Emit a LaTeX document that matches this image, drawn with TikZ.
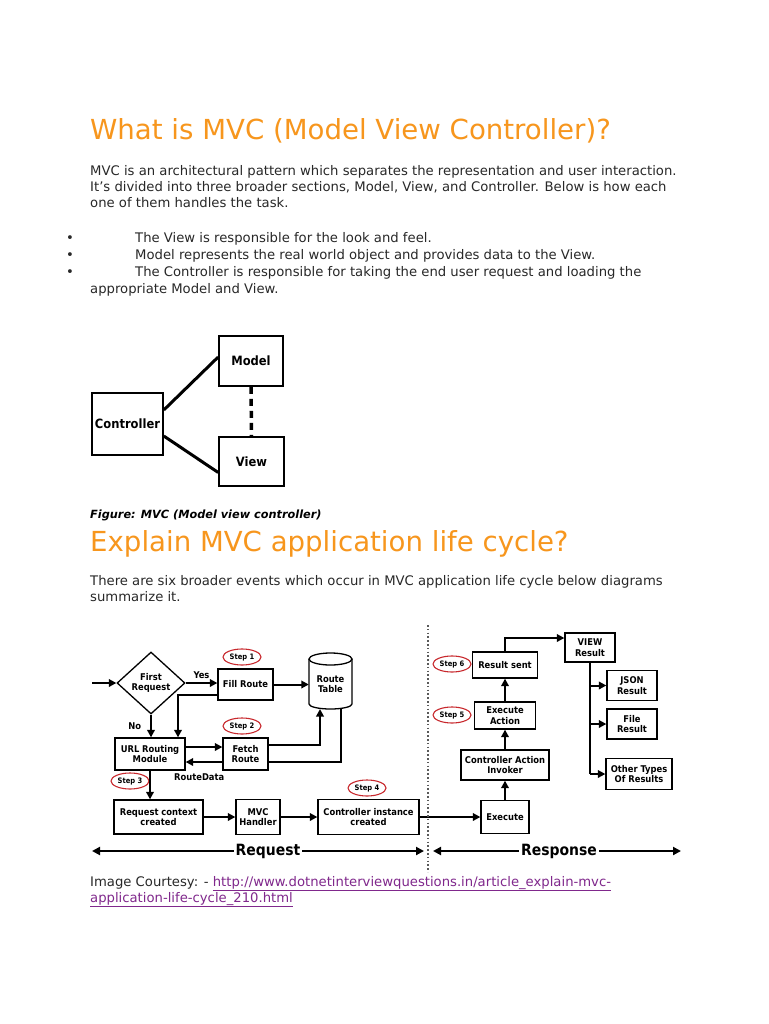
\documentclass[tikz,border=0pt]{standalone}
\usepackage{fontspec}
\setmainfont{DejaVu Sans}
\newfontfamily\cond{DejaVu Sans Condensed}
\usetikzlibrary{shapes.geometric,arrows.meta,calc}
\definecolor{orng}{RGB}{247,150,29}
\definecolor{bodyc}{RGB}{40,40,40}
\definecolor{linkc}{RGB}{128,40,140}
\definecolor{stepred}{RGB}{200,40,45}
\begin{document}
\begin{tikzpicture}[x=1pt,y=-1pt,
  titl/.style={anchor=base west, text=orng, font=\fontsize{27.6}{33}\selectfont, inner sep=0pt},
  body/.style={anchor=base west, text=bodyc, font=\fontsize{13.2}{16}\selectfont, inner sep=0pt},
  mbox/.style={draw, line width=1.6pt, inner sep=1pt, font=\cond\bfseries\fontsize{12.8}{15}\selectfont},
  lbox/.style={draw, line width=1.3pt, fill=white, align=center, inner sep=1pt, font=\cond\bfseries\fontsize{9.3}{10.5}\selectfont},
  lbl/.style={inner sep=1pt, font=\cond\bfseries\fontsize{9.3}{10.5}\selectfont},
  stepe/.style={draw=stepred, ellipse, line width=1.1pt, minimum width=38pt, minimum height=16pt, inner sep=0pt, font=\cond\bfseries\fontsize{7.5}{8}\selectfont},
  arr/.style={line width=2pt, -{Triangle[length=7.5pt,width=7.5pt]}},
  darr/.style={line width=2pt, {Triangle[length=8pt,width=8pt]}-{Triangle[length=8pt,width=8pt]}},
  ln/.style={line width=2pt},
  thick3/.style={line width=3pt}
]
\useasboundingbox (0,0) rectangle (768,1024);
\fill[white] (0,0) rectangle (768,1024);

% ---------- texts ----------
\node[titl] (t1) at (90,140) {What is MVC (Model View Controller)?};
\node[body] (p1) at (90,176) {MVC is an architectural pattern which separates the representation and user interaction.};
\node[body] (p2) at (90,192) {It’s divided into three broader sections, Model, View, and Controller. Below is how each};
\node[body] (p3) at (90,208) {one of them handles the task.};
\node[body] (b1d) at (66,242) {•};
\node[body] (b1) at (135,242) {The View is responsible for the look and feel.};
\node[body] (b2d) at (66,259) {•};
\node[body] (b2) at (135,259) {Model represents the real world object and provides data to the View.};
\node[body] (b3d) at (66,276) {•};
\node[body] (b3) at (135,276) {The Controller is responsible for taking the end user request and loading the};
\node[body] (b4) at (90,293) {appropriate Model and View.};

% ---------- MVC figure ----------
\node[mbox, minimum width=71pt, minimum height=62pt] (ctrl) at (127.5,424) {Controller};
\node[mbox, minimum width=64pt, minimum height=50pt] (model) at (251,361) {Model};
\node[mbox, minimum width=65pt, minimum height=49pt] (view) at (251.5,461.5) {View};
\draw[thick3] ([yshift=14pt]ctrl.east) -- ([yshift=4pt]model.west);
\draw[thick3] ([yshift=-12pt]ctrl.east) -- ([yshift=-11pt]view.west);
\draw[line width=3.5pt, dash pattern=on 7pt off 5pt] (model.south) -- (view.north);

\node[anchor=base west, inner sep=0pt, text=black, font=\bfseries\itshape\fontsize{11.3}{13}\selectfont] (cap) at (90,518) {Figure: MVC (Model view controller)};
\node[titl] (t2) at (90,551) {Explain MVC application life cycle?};
\node[body] (q1) at (90,585) {There are six broader events which occur in MVC application life cycle below diagrams};
\node[body] (q2) at (90,601) {summarize it.};

% ---------- life cycle diagram ----------
\node[lbox, diamond, aspect=1.1, minimum width=68pt, minimum height=62pt, inner sep=0pt] (fr) at (151,683) {First\\Request};
\coordinate (in) at (92,683);
\draw[arr] (in) -- (fr.west);
\node[lbox, minimum width=55pt, minimum height=31pt] (fill) at (245.5,684.5) {Fill Route};
\draw[arr] (fr.east) -- (fr.east -| fill.west) node[lbl, midway, above=2pt] (yes) {Yes};

% Route Table cylinder
\node[lbl, minimum width=43pt, minimum height=55pt, align=center] (rt) at (330.5,684) {Route\\Table};
\draw[line width=1.3pt] (309,659) -- (309,704) arc[start angle=180, end angle=0, x radius=21.5, y radius=5] -- (352,659);
\draw[line width=1.3pt] (330.5,659) ellipse[x radius=21.5, y radius=6];
\draw[arr] (fill.east) -- (fill.east -| rt.west);

\node[lbox, minimum width=70pt, minimum height=32pt] (url) at (150,754) {URL Routing\\Module};
\node[lbox, minimum width=45pt, minimum height=32pt] (fetch) at (245.5,754) {Fetch\\Route};
\draw[arr] (fr.south) -- (fr.south |- url.north) node[lbl, pos=0.5, left=8pt] (no) {No};
\draw[arr] ([yshift=-10.5pt]fill.west) -| ([xshift=28pt]url.north);
\draw[arr] ([yshift=7pt]url.east) -- ([yshift=7pt]fetch.west);
\draw[arr] ([yshift=-8pt]fetch.west) -- ([yshift=-8pt]url.east);
\draw[arr] ([yshift=9pt]fetch.east) -| (320,709);
\draw[ln] (341,708) |- ([yshift=-8pt]fetch.east);
\node[lbl, anchor=west] (rd) at (173,777) {RouteData};

\node[stepe] (s1) at (242,657) {Step 1};
\node[stepe] (s2) at (242,726) {Step 2};
\node[stepe] (s3) at (130,781) {Step 3};
\node[stepe] (s4) at (367,788) {Step 4};
\node[stepe] (s5) at (452,715) {Step 5};
\node[stepe] (s6) at (452,664) {Step 6};

\node[lbox, minimum width=89pt, minimum height=34pt] (req) at (158.5,817) {Request context\\created};
\node[lbox, minimum width=44pt, minimum height=35pt] (mvch) at (258,817) {MVC\\Handler};
\node[lbox, minimum width=101pt, minimum height=35pt] (ci) at (368.5,817) {Controller instance\\created};
\node[lbox, minimum width=48pt, minimum height=33pt] (exec) at (505,817) {Execute};
\node[lbox, minimum width=88pt, minimum height=30pt] (cai) at (505,765) {Controller Action\\Invoker};
\node[lbox, minimum width=61pt, minimum height=27pt] (ea) at (505,715.5) {Execute\\Action};
\node[lbox, minimum width=65pt, minimum height=26pt] (rs) at (505,665) {Result sent};
\node[lbox, minimum width=50pt, minimum height=29pt] (vr) at (590,647.5) {VIEW\\Result};
\node[lbox, minimum width=50pt, minimum height=30pt] (json) at (632,685.5) {JSON\\Result};
\node[lbox, minimum width=50pt, minimum height=30pt] (file) at (632,724) {File\\Result};
\node[lbox, minimum width=66pt, minimum height=31pt] (oth) at (639,774) {Other Types\\Of Results};

\draw[arr] (url.south) -- (url.south |- req.north);
\draw[arr] (req.east) -- (mvch.west);
\draw[arr] (mvch.east) -- (ci.west);
\draw[arr] (ci.east) -- (exec.west);
\draw[arr] (exec.north) -- (cai.south);
\draw[arr] (cai.north) -- (ea.south);
\draw[arr] (ea.north) -- (rs.south);
\draw[arr] (rs.north) |- ([yshift=9.5pt]vr.west);
\coordinate (vbot) at (590,774);
\draw[ln] (vr.south) -- (vbot);
\draw[arr] (vr.south |- json.west) -- (json.west);
\draw[arr] (vr.south |- file.west) -- (file.west);
\draw[arr] (vbot) -- (oth.west);

% divider and request/response
\draw[line width=1.6pt, dash pattern=on 1.6pt off 2.2pt, color=black!65] (428,625) -- (428,872);
\coordinate (rqL) at (92,851);
\coordinate (rqR) at (424,851);
\coordinate (rsL) at (433,851);
\coordinate (rsR) at (681,851);
\draw[darr] (rqL) -- (rqR);
\draw[darr] (rsL) -- (rsR);
\node[fill=white, inner sep=2pt, font=\cond\bfseries\fontsize{15.5}{17}\selectfont] (reql) at (268,851) {Request};
\node[fill=white, inner sep=2pt, font=\cond\bfseries\fontsize{15.5}{17}\selectfont] (resl) at (559,851) {Response};

% courtesy
\node[body] (c1) at (90,886) {Image Courtesy: - \textcolor{linkc}{\underline{http://www.dotnetinterviewquestions.in/article\_explain-mvc-}}};
\node[body, text=linkc] (c2) at (90,902) {\underline{application-life-cycle\_210.html}};
\end{tikzpicture}
\end{document}
